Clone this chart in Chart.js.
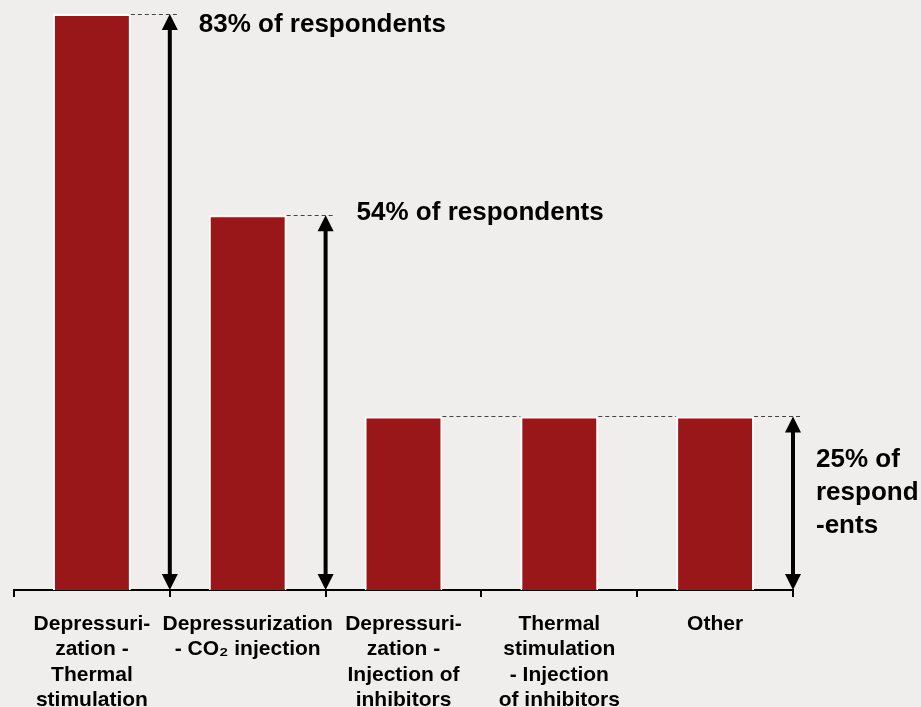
<!DOCTYPE html>
<html>
<head>
<meta charset="utf-8">
<script src="https://cdn.jsdelivr.net/npm/chart.js@4/dist/chart.umd.min.js"></script>
<style>
  html, body { margin: 0; padding: 0; background: #EFEEED; }
  #wrap { width: 921px; height: 707px; }
</style>
</head>
<body>
<div id="wrap"><canvas id="c" width="921" height="707"></canvas></div>
<script>
const categories = [
  ["Depressuri-", "zation -", "Thermal", "stimulation"],
  ["Depressurization", "- CO\u2082 injection"],
  ["Depressuri-", "zation -", "Injection of", "inhibitors"],
  ["Thermal", "stimulation", "- Injection", "of inhibitors"],
  ["Other"]
];
const respondentShares = [83, 54, 25, 25, 25];
const calloutCategory = [0, 1, 4];
const calloutValues = [83, 54, 25];
const calloutTexts = [
  ["83% of respondents"],
  ["54% of respondents"],
  ["25% of", "respond", "-ents"]
];

const FONT = "'Liberation Sans', Arial, Helvetica, sans-serif";

const calloutPlugin = {
  id: 'callouts',
  afterDatasetsDraw(chart, args, opts) {
    const ctx = chart.ctx;
    const xs = chart.scales.x, ys = chart.scales.y;
    const meta = chart.getDatasetMeta(0);
    const catW = xs.width / categories.length;
    const base = ys.getPixelForValue(0);
    const arrowX = calloutCategory.map(i => xs.getPixelForValue(i) + catW / 2);
    const headW = 8, headH = 16;

    // dashed lines from bar tops
    ctx.save();
    ctx.strokeStyle = '#444444';
    ctx.lineWidth = 1;
    ctx.setLineDash([4, 3]);
    meta.data.forEach((bar, i) => {
      const y = Math.round(bar.y) + 0.5;
      const x0 = bar.x + bar.width / 2;
      let x1;
      const ai = calloutCategory.indexOf(i);
      if (ai >= 0) x1 = arrowX[ai] + headW;
      else x1 = meta.data[i + 1].x - meta.data[i + 1].width / 2;
      ctx.beginPath();
      ctx.moveTo(x0, y);
      ctx.lineTo(x1, y);
      ctx.stroke();
    });
    ctx.restore();

    // double arrows
    ctx.save();
    ctx.fillStyle = '#000';
    ctx.strokeStyle = '#000';
    ctx.lineWidth = 4;
    calloutCategory.forEach((ci, k) => {
      const x = arrowX[k];
      const top = ys.getPixelForValue(calloutValues[k]);
      ctx.beginPath();
      ctx.moveTo(x, top + headH - 1);
      ctx.lineTo(x, base - headH + 1);
      ctx.stroke();
      ctx.beginPath();
      ctx.moveTo(x, top);
      ctx.lineTo(x - headW, top + headH);
      ctx.lineTo(x + headW, top + headH);
      ctx.closePath();
      ctx.fill();
      ctx.beginPath();
      ctx.moveTo(x, base);
      ctx.lineTo(x - headW, base - headH);
      ctx.lineTo(x + headW, base - headH);
      ctx.closePath();
      ctx.fill();
    });
    ctx.restore();

    // callout texts
    ctx.save();
    ctx.fillStyle = '#000';
    ctx.font = 'bold 26px ' + FONT;
    ctx.textAlign = 'left';
    ctx.textBaseline = 'middle';
    const offs = opts.offsets;
    calloutTexts.forEach((lines, k) => {
      const x = arrowX[k] + offs[k].dx;
      const y0 = ys.getPixelForValue(calloutValues[k]) + offs[k].dy;
      lines.forEach((t, j) => ctx.fillText(t, x, y0 + j * 33));
    });
    ctx.restore();
  }
};

new Chart(document.getElementById('c'), {
  type: 'bar',
  data: {
    labels: categories,
    datasets: [{
      data: respondentShares,
      backgroundColor: '#991619',
      borderColor: '#FFFFFF',
      borderWidth: { top: 2, left: 2, right: 2, bottom: 0 },
      borderSkipped: 'start',
      categoryPercentage: 1.0,
      barPercentage: 0.5
    }]
  },
  options: {
    responsive: false,
    animation: false,
    layout: { padding: { left: 14, right: 128, top: 0, bottom: 0 } },
    plugins: {
      legend: { display: false },
      tooltip: { enabled: false },
      callouts: {
        offsets: [ { dx: 29, dy: 11 }, { dx: 31, dy: -2 }, { dx: 23, dy: 43 } ]
      }
    },
    scales: {
      x: {
        offset: true,
        border: { display: true, color: '#000', width: 2 },
        grid: {
          offset: true,
          display: true,
          drawOnChartArea: false,
          drawTicks: true,
          tickLength: 7,
          color: '#000',
          lineWidth: 2
        },
        ticks: {
          color: '#000',
          font: { family: FONT, size: 21, weight: 'bold', lineHeight: 1.22 },
          padding: 14,
          maxRotation: 0,
          minRotation: 0,
          autoSkip: false
        },
        afterFit(scale) { scale.height = 117; }
      },
      y: {
        display: false,
        min: 0,
        max: 85
      }
    }
  },
  plugins: [calloutPlugin]
});
</script>
</body>
</html>
